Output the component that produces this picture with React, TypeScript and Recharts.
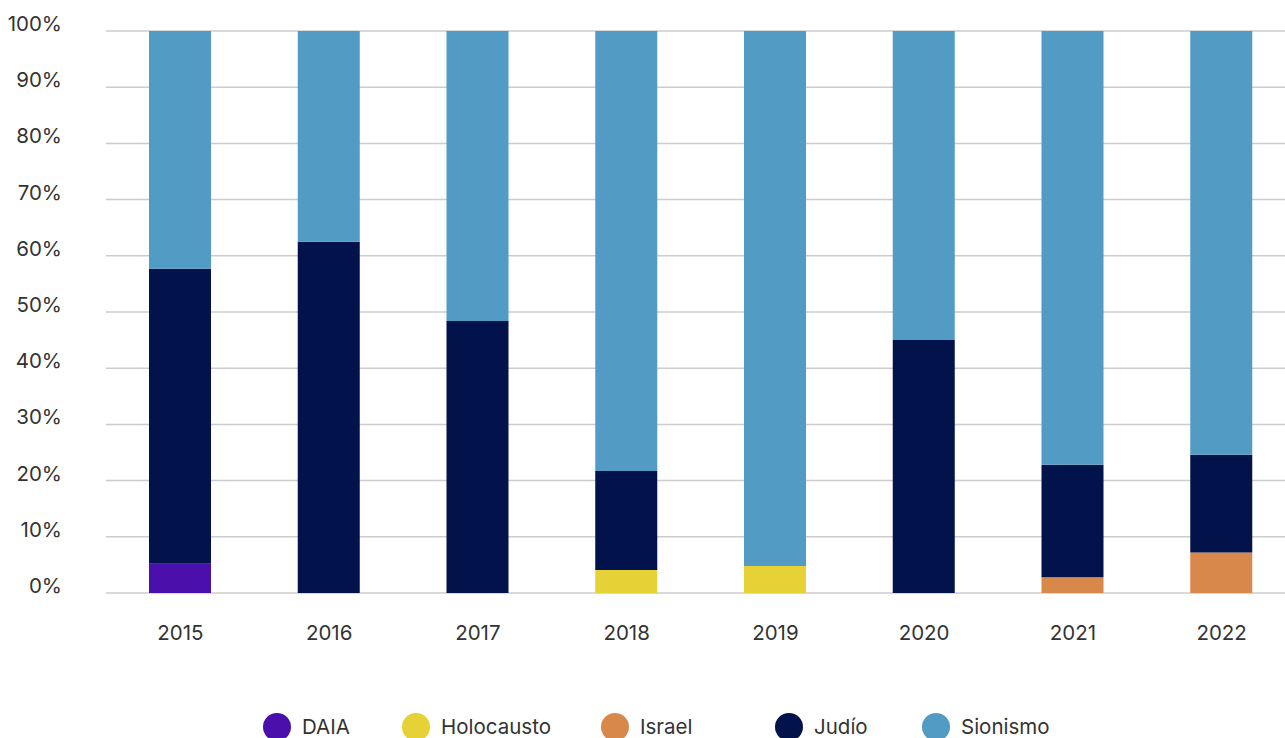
import { BarChart, Bar, XAxis, YAxis, CartesianGrid } from 'recharts'

const years = ['2015', '2016', '2017', '2018', '2019', '2020', '2021', '2022']
const daia = [5.2, 0, 0, 0, 0, 0, 0, 0]
const holocausto = [0, 0, 0, 4.1, 4.8, 0, 0, 0]
const israel = [0, 0, 0, 0, 0, 0, 2.8, 7.2]
const judio = [52.5, 62.5, 48.4, 17.6, 0, 45.0, 20.0, 17.4]
const sionismo = [42.3, 37.5, 51.6, 78.3, 95.2, 55.0, 77.2, 75.4]
const yTicks = [0, 10, 20, 30, 40, 50, 60, 70, 80, 90, 100]

const SERIES = [
  { key: 'DAIA', values: daia, color: '#4B0FAB' },
  { key: 'Holocausto', values: holocausto, color: '#E6D136' },
  { key: 'Israel', values: israel, color: '#D8884B' },
  { key: 'Judío', values: judio, color: '#01134A' },
  { key: 'Sionismo', values: sionismo, color: '#529BC4' },
]

const data = years.map((year, i) => {
  const row: { [key: string]: string | number } = { year }
  SERIES.forEach((s) => {
    row[s.key] = s.values[i]
  })
  return row
})

const FONT = 'Inter, "Noto Sans", sans-serif'

const YTick = ({ x, y, payload }: { x?: number; y?: number; payload?: { value: number } }) => (
  <text x={(x ?? 0) - 44} y={y} textAnchor="end" fontSize={20.5} fill="#333" fontFamily={FONT}>
    {`${payload?.value}%`}
  </text>
)

const XTick = ({ x, y, payload }: { x?: number; y?: number; payload?: { value: string } }) => (
  <text x={x} y={(y ?? 0) + 47} textAnchor="middle" fontSize={20.5} fill="#333" fontFamily={FONT}>
    {payload?.value}
  </text>
)

// anchos de cada item de la leyenda (como en el original)
const legendWidths = [139, 199, 174, 147, 140]

export default function App() {
  return (
    <div style={{ position: 'fixed', left: 0, top: 0, width: 1285, height: 738, overflow: 'hidden', background: '#fff' }}>
      <BarChart
        width={1300}
        height={738}
        data={data}
        margin={{ top: 31, right: 4, left: 0, bottom: 0 }}
      >
        <CartesianGrid vertical={false} stroke="#cccccc" strokeWidth={1.5} />
        <XAxis
          dataKey="year"
          height={145}
          axisLine={false}
          tickLine={false}
          tickSize={0}
          tickMargin={0}
          tick={<XTick />}
          interval={0}
        />
        <YAxis
          width={106}
          domain={[0, 100]}
          ticks={yTicks}
          axisLine={false}
          tickLine={false}
          tickSize={0}
          tickMargin={0}
          tick={<YTick />}
          interval={0}
        />
        {SERIES.map((s) => (
          <Bar key={s.key} dataKey={s.key} stackId="a" fill={s.color} barSize={62} isAnimationActive={false} />
        ))}
      </BarChart>

      {/* Leyenda */}
      <div style={{ position: 'absolute', left: 263, top: 713, display: 'flex', fontFamily: FONT }}>
        {SERIES.map((s, i) => (
          <div key={s.key} style={{ display: 'flex', alignItems: 'center', width: legendWidths[i] }}>
            <div style={{ width: 28, height: 28, borderRadius: '50%', backgroundColor: s.color, marginRight: 11 }}></div>
            <span style={{ fontSize: 20.5, color: '#333', lineHeight: '28px' }}>{s.key}</span>
          </div>
        ))}
      </div>
    </div>
  )
}
